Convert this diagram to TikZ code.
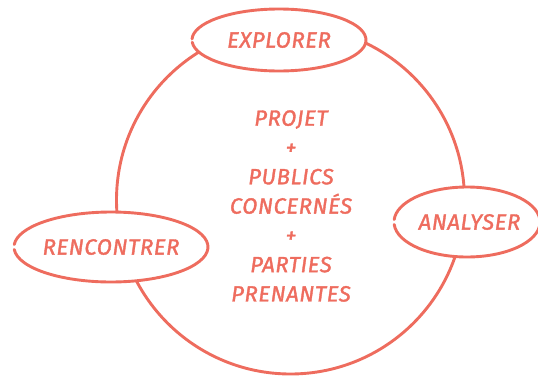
\documentclass[tikz,border=0pt]{standalone}
\usepackage{fontspec}
\newfontfamily\hand{Fira Sans}[LetterSpace=3,FakeBold=1.6]
\usetikzlibrary{shapes.geometric}
\definecolor{coral}{RGB}{238,108,94}
\tikzset{
  stroke/.style={draw=coral, line width=2.9pt, line cap=round},
  bubble/.style={ellipse, fill=white, inner sep=0pt, text=coral,
    font=\hand\itshape\fontsize{22}{24}\selectfont},
  centre/.style={text=coral, align=center,
    font=\hand\itshape\fontsize{22}{29.3}\selectfont}
}
\begin{document}
\begin{tikzpicture}[x=1pt,y=-1pt]
\useasboundingbox (0,0) rectangle (538,378);
% big circle
\draw[stroke] (290.5,200) circle[radius=174];
% bubbles
\node[bubble, minimum width=174pt, minimum height=62pt] (explorer) at (279,40) {EXPLORER};
\draw[stroke] ([shift={(184:87pt and 31pt)}]explorer.center) arc[start angle=184, end angle=538, x radius=87pt, y radius=31pt];
\node[bubble, minimum width=146pt, minimum height=70pt] (analyser) at (467,222) {\hspace*{5pt}ANALYSER};
\draw[stroke] ([shift={(184:73pt and 35pt)}]analyser.center) arc[start angle=184, end angle=536, x radius=73pt, y radius=35pt];
\node[bubble, minimum width=194pt, minimum height=70pt] (rencontrer) at (111,247) {RENCONTRER};
\draw[stroke] ([shift={(184:97pt and 35pt)}]rencontrer.center) arc[start angle=184, end angle=536, x radius=97pt, y radius=35pt];
% centre text
\node[centre] (core) at (291,206) {PROJET\\+\\PUBLICS\\CONCERNÉS\\+\\PARTIES\\PRENANTES};
\end{tikzpicture}
\end{document}
